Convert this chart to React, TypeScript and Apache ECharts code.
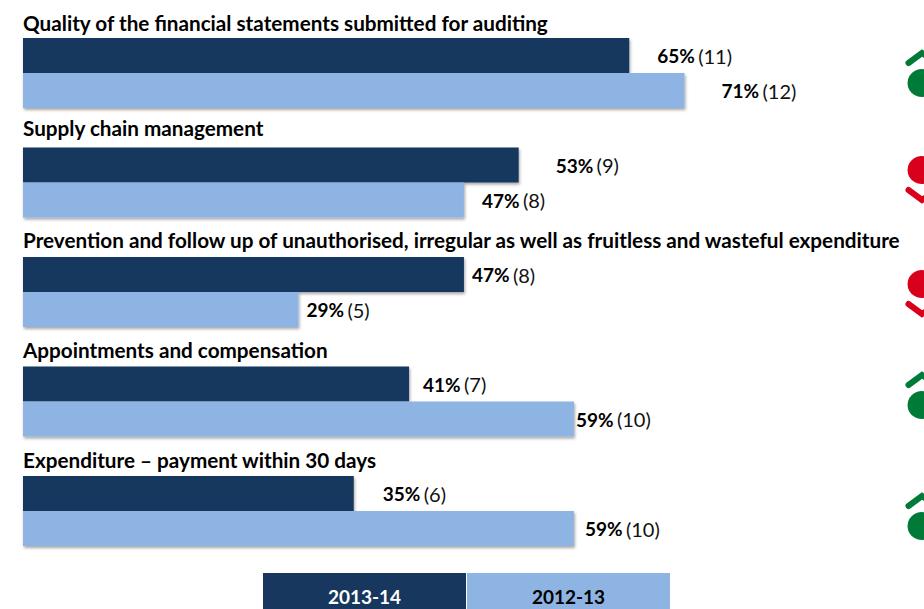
import React, { useEffect, useRef } from "react";
import * as echarts from "echarts";

const categories = [
  "Quality of the financial statements submitted for auditing",
  "Supply chain management",
  "Prevention and follow up of unauthorised, irregular as well as fruitless and wasteful expenditure",
  "Appointments and compensation",
  "Expenditure – payment within 30 days",
];
const seriesNames = ["2013-14", "2012-13"];
const values2013 = [64.7, 52.9, 47.06, 41.2, 35.3];
const values2012 = [70.6, 47.06, 29.4, 58.8, 58.8];
const counts2013 = [11, 9, 8, 7, 6];
const counts2012 = [12, 8, 5, 10, 10];
const pct2013 = [65, 53, 47, 41, 35];
const pct2012 = [71, 47, 29, 59, 59];
const trend = ["up", "down", "down", "up", "up"];

const gaps2013 = [28, 37, 8, 14, 29];
const gaps2012 = [37, 18, 8, 2, 11];
const titleShift = [100, 109, 104, 103, 102];
const iconY = [83, 170, 284, 405, 526];
const DARK = "#17375E";
const LIGHT = "#8EB4E3";
const GREEN = "#007A37";
const RED = "#D9001B";
const FONT = "Lato, Carlito, sans-serif";

function icons() {
  const out: any[] = [];
  trend.forEach((t, i) => {
    const y = iconY[i];
    const up = t === "up";
    const color = up ? GREEN : RED;
    out.push({ type: "circle", shape: { cx: 921.5, cy: y, r: 14 }, style: { fill: color } });
    const dy = up ? -1 : 1;
    out.push({
      type: "polyline",
      shape: { points: [[908.5, y + dy * 20], [922, y + dy * 30], [936, y + dy * 20]] },
      style: { stroke: color, lineWidth: 6, fill: "none", lineCap: "round" },
    });
  });
  return out;
}

function legend() {
  const out: any[] = [];
  seriesNames.forEach((name, i) => {
    const x = 263 + i * 204;
    out.push({ type: "rect", shape: { x, y: 573, width: 203, height: 36 }, style: { fill: i === 0 ? DARK : LIGHT } });
    out.push({
      type: "text",
      x: x + 101.5,
      y: 596,
      style: { text: name, fill: i === 0 ? "#fff" : "#000", font: `bold 19px ${FONT}`, textAlign: "center", textVerticalAlign: "middle" },
    });
  });
  return out;
}

function bars(name: string, vals: number[], pct: number[], cnt: number[], gaps: number[], color: string) {
  return {
    name,
    type: "bar",
    barWidth: 35,
    barGap: 0,
    itemStyle: { color, shadowBlur: 3, shadowOffsetY: 2, shadowOffsetX: 1, shadowColor: "rgba(0,0,0,0.35)" },
    data: vals.map((v, i) => ({
      value: v,
      label: {
        show: true,
        position: "right",
        distance: gaps[i],
        formatter: `{b|${pct[i]}%} {n|(${cnt[i]})}`,
        rich: {
          b: { fontFamily: FONT, fontWeight: "bold", fontSize: 19, color: "#000" },
          n: { fontFamily: FONT, fontSize: 20, color: "#111" },
        },
      },
    })),
  };
}

const titleRich: Record<string, any> = {};
titleShift.forEach((s, i) => {
  titleRich["t" + i] = { fontFamily: FONT, fontWeight: "bold", fontSize: 20.7, color: "#000", lineHeight: s };
  titleRich["s" + i] = { fontSize: 1, lineHeight: s };
});

export default function App() {
  const ref = useRef<HTMLDivElement>(null);
  useEffect(() => {
    const chart = echarts.init(ref.current!, null, { renderer: "svg" });
    chart.setOption({
      animation: false,
      backgroundColor: "#fff",
      grid: { left: 23, right: 0, top: 18.25, height: 547.5 },
      xAxis: { type: "value", min: 0, max: 96.16, show: false },
      yAxis: {
        type: "category",
        inverse: true,
        data: categories,
        axisLine: { show: false },
        axisTick: { show: false },
        axisLabel: {
          inside: true,
          margin: 0,
          align: "left",
          verticalAlign: "middle",
          interval: 0,
          formatter: (v: string, i: number) => `{t${i}|${v}}\n{s${i}| }`,
          rich: titleRich,
        },
        z: 5,
      },
      series: [
        bars(seriesNames[0], values2013, pct2013, counts2013, gaps2013, DARK),
        bars(seriesNames[1], values2012, pct2012, counts2012, gaps2012, LIGHT),
      ],
      graphic: [...icons(), ...legend()],
    });
    return () => chart.dispose();
  }, []);
  return <div ref={ref} style={{ position: "absolute", left: 0, top: 0, width: 924, height: 609 }} />;
}
